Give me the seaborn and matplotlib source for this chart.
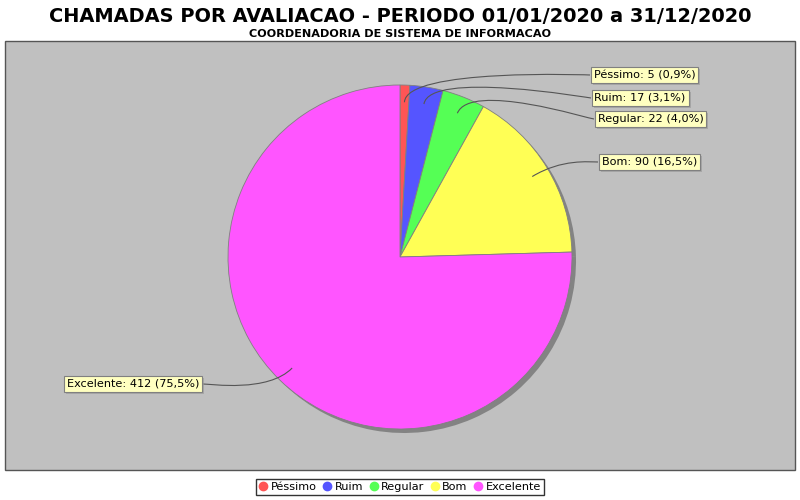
import numpy as np
import matplotlib
matplotlib.use('Agg')
import matplotlib.pyplot as plt
import seaborn as sns
from matplotlib.path import Path
from matplotlib.patches import PathPatch, Rectangle
from matplotlib.lines import Line2D
import matplotlib.patheffects as pe

categories = ["Péssimo", "Ruim", "Regular", "Bom", "Excelente"]
values = [5, 17, 22, 90, 412]
colors = ["#FF5555", "#5555FF", "#55FF55", "#FFFF55", "#FF55FF"]
title = "CHAMADAS POR AVALIACAO - PERIODO 01/01/2020 a 31/12/2020"
subtitle = "COORDENADORIA DE SISTEMA DE INFORMACAO"

# label layout (pixels from top-left)
label_y_px = [75, 98, 119, 162, 384]
label_x_px = [590, 591, 594, 598, 203]

sns.set_theme(style="white")
plt.rcParams['font.family'] = ['DejaVu Sans']
plt.rcParams['text.color'] = 'black'
plt.rcParams['legend.labelcolor'] = 'black'

W, H = 800, 500
fig = plt.figure(figsize=(8, 5), dpi=100)
fig.patch.set_facecolor('white')
ax = fig.add_axes([0, 0, 1, 1])


def Y(ypx):
    return H - ypx


# plot panel
ax.add_patch(Rectangle((5, Y(470)), 790, 429, fc='#C0C0C0', ec='#555555', lw=1, zorder=0))

cx, cy, r = 400, Y(257), 172
total = sum(values)

# shadow
ax.pie(values, colors=['#838383'] * len(values), startangle=90, counterclock=False,
       radius=r, center=(cx + 4, cy - 4), wedgeprops=dict(linewidth=0), frame=True)
ax.pie(values, colors=colors, startangle=90, counterclock=False,
       radius=r, center=(cx, cy), wedgeprops=dict(linewidth=0.6, edgecolor='#808080'), frame=True)

fs = 8.1
cum = np.concatenate([[0], np.cumsum(values)[:-1]])
for i, (c, v) in enumerate(zip(categories, values)):
    theta = np.deg2rad(90 - 360 * (cum[i] + v / 2) / total)
    lx, ly = cx + 0.9 * r * np.cos(theta), cy + 0.9 * r * np.sin(theta)
    ex, ey = cx + 1.1 * r * np.cos(theta), cy + 1.1 * r * np.sin(theta)
    right = np.cos(theta) >= 0
    anc_x = cx + 1.1 * r if right else cx - 1.1 * r
    tx = label_x_px[i]
    ty = Y(label_y_px[i])
    path = Path([(tx, ty), (anc_x, ty), (ex, ey), (lx, ly)],
                [Path.MOVETO, Path.CURVE4, Path.CURVE4, Path.CURVE4])
    ax.add_patch(PathPatch(path, fc='none', ec='#555555', lw=0.8, zorder=3))
    pct = f"{100 * v / total:.1f}".replace('.', ',')
    txt = f"{c}: {v} ({pct}%)"
    t = ax.text(tx + (3.5 if right else -3.5), ty, txt, ha='left' if right else 'right',
                va='center', fontsize=fs, zorder=5, color='black',
                bbox=dict(boxstyle='square,pad=0.25', fc='#FFFFC0', ec='#808080', lw=0.8))
    t.get_bbox_patch().set_path_effects([
        pe.SimplePatchShadow(offset=(1.5, -1.5), shadow_rgbFace='#979797', alpha=0.6),
        pe.Normal()])

ax.set_xlim(0, W)
ax.set_ylim(0, H)
ax.set_aspect('auto')
ax.axis('off')

# titles
fam = ['DejaVu Sans']
t1 = fig.text(0.5, 1 - 22 / H, title, ha='center', va='baseline', fontsize=17,
              fontweight='bold', family=fam, color='black')
t2 = fig.text(0.5, 1 - 37 / H, subtitle, ha='center', va='baseline', fontsize=9,
              fontweight='bold', family=fam, color='black')
renderer = fig.canvas.get_renderer()
for t, target in ((t1, 703), (t2, 301)):
    w = t.get_window_extent(renderer).width
    t.set_fontsize(t.get_fontsize() * target / w)

# legend
handles = [Line2D([], [], marker='o', ls='', mfc=col, mec=col, ms=6) for col in colors]
leg = fig.legend(handles, categories, loc='center', bbox_to_anchor=(0.5, 1 - 487 / H), ncol=5,
                 frameon=True, fancybox=False, edgecolor='black', fontsize=fs,
                 handlelength=0.7, handletextpad=0.3, columnspacing=0.6, borderpad=0.3,
                 borderaxespad=0, labelcolor='black')
leg.get_frame().set_linewidth(1)
leg.get_frame().set_facecolor('white')

fig.savefig('out.png', dpi=100, facecolor='white')
